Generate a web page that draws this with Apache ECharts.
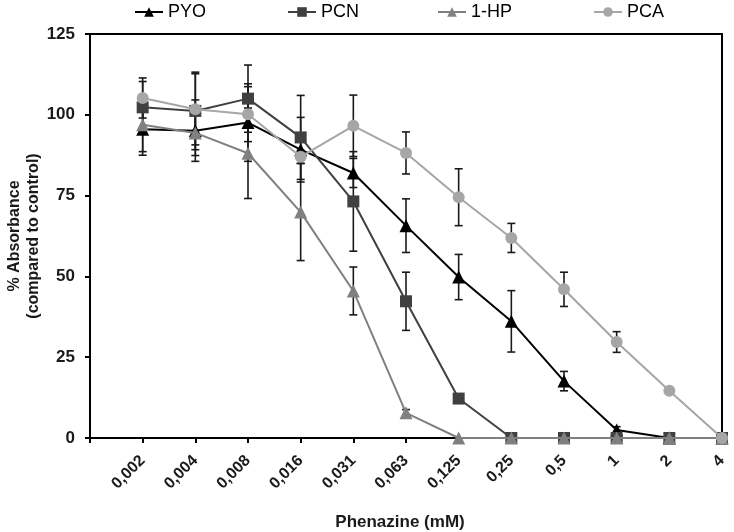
<!DOCTYPE html>
<html>
<head>
<meta charset="utf-8">
<script src="https://cdn.jsdelivr.net/npm/echarts@6/dist/echarts.min.js"></script>
<style>html,body{margin:0;padding:0;background:#fff}#c{width:734px;height:532px}</style>
</head>
<body>
<div id="c"></div>
<script>
const categories = ['0,002','0,004','0,008','0,016','0,031','0,063','0,125','0,25','0,5','1','2','4'];
const yTicks = [0, 25, 50, 75, 100, 125];
const pyo    = [95.5, 95.1, 97.6, 89.2, 82.0, 65.7, 49.8, 36.1, 17.6, 2.5, 0, 0];
const pyoErr = [8, 9.5, 12, 10, 4.5, 8.3, 7, 9.5, 3, 1, 0, 0];
const pcn    = [102.3, 101.2, 105.0, 93.0, 73.2, 42.3, 12.2, 0, 0, 0, 0, 0];
const pcnErr = [8, 12, 10.4, 13, 15.4, 9, 0, 0, 0, 0, 0, 0];
const hp     = [96.9, 94.4, 88.1, 69.9, 45.5, 7.8, 0, 0, 0, 0, 0, 0];
const hpErr  = [8.3, 7, 14, 15, 7.4, 1, 0, 0, 0, 0, 0, 0];
const pca    = [105.2, 101.7, 100.2, 87.0, 96.6, 88.2, 74.5, 61.9, 46.0, 29.7, 14.6, 0];
const pcaErr = [6.2, 11, 8.5, 2, 9.5, 6.5, 8.8, 4.5, 5.3, 3.2, 0, 0];

const FONT = '"Liberation Sans", Arial, sans-serif';
const defs = [
  {name: 'PYO', data: pyo, err: pyoErr, color: '#000000', symbol: 'triangle'},
  {name: 'PCN', data: pcn, err: pcnErr, color: '#404040', symbol: 'rect'},
  {name: '1-HP', data: hp, err: hpErr, color: '#808080', symbol: 'triangle'},
  {name: 'PCA', data: pca, err: pcaErr, color: '#a6a6a6', symbol: 'circle'}
];

function errSeries(d) {
  const pts = [];
  d.data.forEach((v, i) => { if (d.err[i] > 0) pts.push([i, v - d.err[i], v + d.err[i]]); });
  return {
    type: 'custom', name: d.name + ' err', z: 1,
    data: pts,
    encode: {x: 0, y: [1, 2]},
    renderItem: function (params, api) {
      const x = api.value(0);
      const lo = api.coord([x, api.value(1)]);
      const hi = api.coord([x, api.value(2)]);
      const w = 4;
      const st = {stroke: '#1a1a1a', lineWidth: 1.6, fill: null};
      return {type: 'group', children: [
        {type: 'line', shape: {x1: lo[0], y1: lo[1], x2: hi[0], y2: hi[1]}, style: st},
        {type: 'line', shape: {x1: lo[0] - w, y1: lo[1], x2: lo[0] + w, y2: lo[1]}, style: st},
        {type: 'line', shape: {x1: hi[0] - w, y1: hi[1], x2: hi[0] + w, y2: hi[1]}, style: st}
      ]};
    },
    silent: true
  };
}

const series = [];
defs.forEach(d => series.push(errSeries(d)));
defs.forEach((d, k) => series.push({
  type: 'line', name: d.name, z: 2 + k,
  data: d.data.map((v, i) => [i, v]),
  symbol: d.symbol,
  symbolSize: d.symbol === 'rect' ? 12 : (d.symbol === 'circle' ? 12 : 13),
  showAllSymbol: true,
  lineStyle: {color: d.color, width: 2},
  itemStyle: {color: d.color},
  animation: false
}));

const legendLeft = [134, 287, 437, 593];
const legends = defs.map((d, k) => ({
  data: [d.name], left: legendLeft[k], top: 3, padding: 0,
  itemWidth: 28, itemHeight: 12, itemGap: 4,
  textStyle: {fontFamily: FONT, fontSize: 18, color: '#000'}
}));

const chart = echarts.init(document.getElementById('c'));
chart.setOption({
  animation: false,
  backgroundColor: '#fff',
  legend: legends,
  grid: {left: 90, right: 12, top: 34, bottom: 94, show: true, borderColor: '#000', borderWidth: 2,
         containLabel: false, outerBoundsMode: 'none'},
  xAxis: {
    type: 'value', min: -1, max: 11, interval: 1,
    name: 'Phenazine (mM)', nameLocation: 'middle', nameGap: 76,
    nameTextStyle: {fontFamily: FONT, fontSize: 17, fontWeight: 'bold', color: '#1a1a1a', padding: [0, 12, 0, 0]},
    axisLine: {onZero: false, lineStyle: {color: '#000', width: 2}},
    axisTick: {length: 5, lineStyle: {color: '#000', width: 2}},
    splitLine: {show: false},
    axisLabel: {
      rotate: 45, margin: 20,
      fontFamily: FONT, fontSize: 16, fontWeight: 'bold', color: '#1a1a1a',
      formatter: v => (v >= 0 && v < categories.length && Number.isInteger(v)) ? categories[v] : ''
    }
  },
  yAxis: {
    type: 'value', min: yTicks[0], max: yTicks[yTicks.length - 1], interval: 25,
    name: '% Absorbance\n(compared to control)', nameLocation: 'middle', nameGap: 47, nameMoveOverlap: false,
    nameTextStyle: {fontFamily: FONT, fontSize: 16, fontWeight: 'bold', color: '#1a1a1a', lineHeight: 19},
    axisLine: {show: true, onZero: false, lineStyle: {color: '#000', width: 2}},
    axisTick: {show: true, length: 5, lineStyle: {color: '#000', width: 2}},
    splitLine: {show: false},
    axisLabel: {margin: 15, fontFamily: FONT, fontSize: 17, fontWeight: 'bold', color: '#1a1a1a'}
  },
  series: series
});
</script>
</body>
</html>
